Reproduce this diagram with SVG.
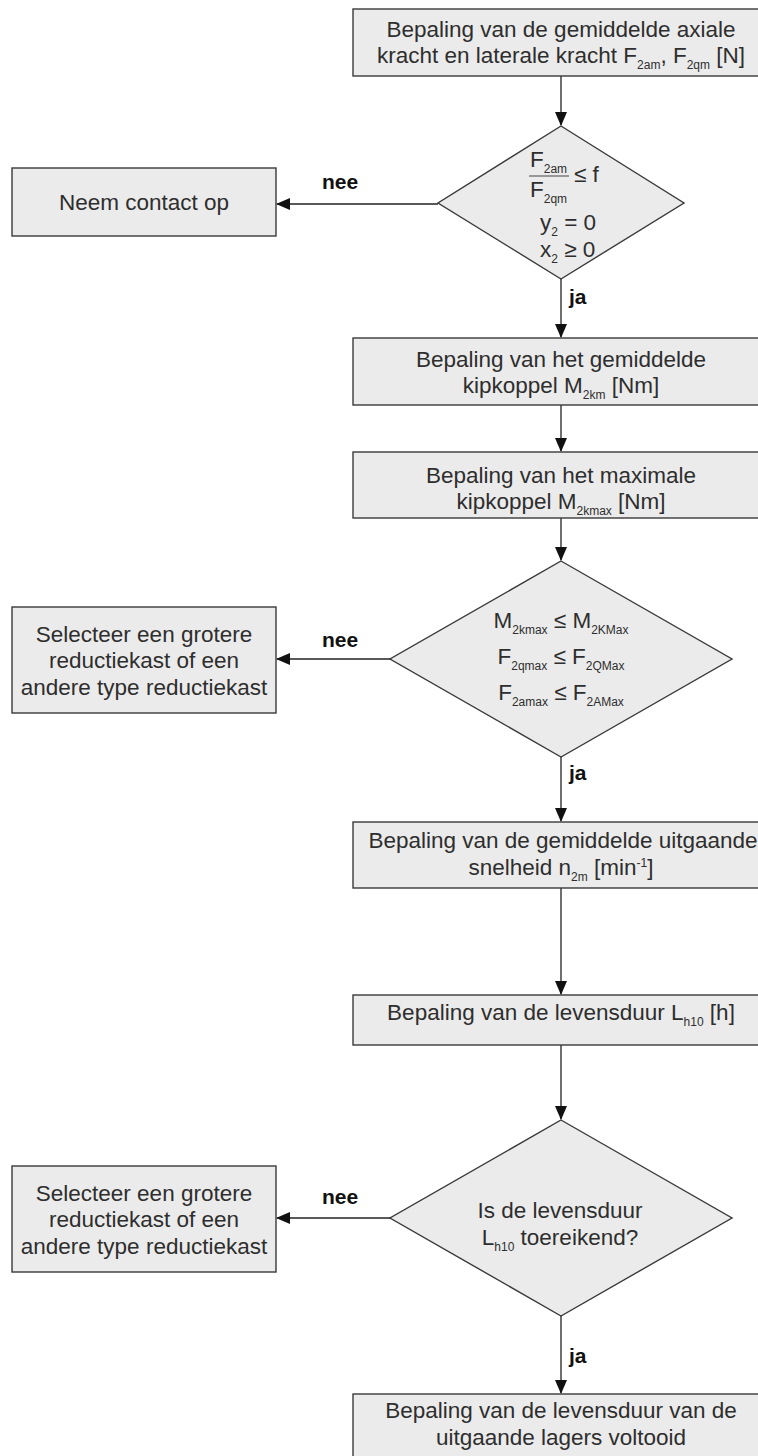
<svg xmlns="http://www.w3.org/2000/svg" width="758" height="1456" viewBox="0 0 758 1456">
<style>
.box{fill:#ebebeb;stroke:#3a3a3a;stroke-width:1.4}
.t{font-family:"Liberation Sans",Arial,sans-serif;font-size:22.5px;fill:#2e2e2e;text-anchor:middle}
.ts{font-family:"Liberation Sans",Arial,sans-serif;font-size:22.5px;fill:#2e2e2e}
.lbl{font-family:"Liberation Sans",Arial,sans-serif;font-size:21px;font-weight:bold;fill:#111}
.sub{font-size:12px}
.c{stroke:#222;stroke-width:1.3;fill:none}
</style>
<defs>
<marker id="ah" markerWidth="14" markerHeight="12" refX="13" refY="6" orient="auto" markerUnits="userSpaceOnUse">
<path d="M0,0 L14,6 L0,12 Z" fill="#111"/>
</marker>
</defs>
<rect width="758" height="1456" fill="#ffffff"/>

<g id="connectors">
<line class="c" x1="561" y1="76" x2="561" y2="125" marker-end="url(#ah)"/>
<line class="c" x1="438" y1="204" x2="277" y2="204" marker-end="url(#ah)"/>
<line class="c" x1="561" y1="279" x2="561" y2="337" marker-end="url(#ah)"/>
<line class="c" x1="561" y1="405" x2="561" y2="451" marker-end="url(#ah)"/>
<line class="c" x1="561" y1="518" x2="561" y2="560" marker-end="url(#ah)"/>
<line class="c" x1="390" y1="659" x2="277" y2="659" marker-end="url(#ah)"/>
<line class="c" x1="561" y1="757" x2="561" y2="821" marker-end="url(#ah)"/>
<line class="c" x1="561" y1="888" x2="561" y2="994" marker-end="url(#ah)"/>
<line class="c" x1="561" y1="1045" x2="561" y2="1119" marker-end="url(#ah)"/>
<line class="c" x1="390" y1="1218" x2="277" y2="1218" marker-end="url(#ah)"/>
<line class="c" x1="561" y1="1316" x2="561" y2="1393" marker-end="url(#ah)"/>
<text class="lbl" x="322" y="189">nee</text>
<text class="lbl" x="569" y="304">ja</text>
<text class="lbl" x="322" y="647">nee</text>
<text class="lbl" x="569" y="780">ja</text>
<text class="lbl" x="322" y="1204">nee</text>
<text class="lbl" x="569" y="1363">ja</text>
</g>

<g id="n1">
<rect class="box" x="353" y="9" width="416" height="67"/>
<text class="t" x="561" y="37">Bepaling van de gemiddelde axiale</text>
<text class="t" x="561" y="63">kracht en laterale kracht F<tspan class="sub" dy="6">2am</tspan><tspan dy="-6">, F</tspan><tspan class="sub" dy="6">2qm</tspan><tspan dy="-6"> [N]</tspan></text>
</g>

<g id="d1">
<polygon class="box" points="561,126 684,203 561,279 438,203"/>
<text class="ts" x="530" y="167">F<tspan class="sub" dy="6">2am</tspan></text>
<line x1="529" y1="176" x2="569" y2="176" stroke="#444" stroke-width="1.2"/>
<text class="ts" x="574" y="182">≤ f</text>
<text class="ts" x="530" y="197">F<tspan class="sub" dy="6">2qm</tspan></text>
<text class="ts" x="540" y="230">y<tspan class="sub" dy="6">2</tspan><tspan dy="-6"> = 0</tspan></text>
<text class="ts" x="540" y="257">x<tspan class="sub" dy="6">2</tspan><tspan dy="-6"> ≥ 0</tspan></text>
</g>

<g id="n2">
<rect class="box" x="12" y="168" width="264" height="68"/>
<text class="t" x="144" y="210">Neem contact op</text>
</g>

<g id="n3">
<rect class="box" x="353" y="338" width="416" height="67"/>
<text class="t" x="561" y="367">Bepaling van het gemiddelde</text>
<text class="t" x="561" y="393">kipkoppel M<tspan class="sub" dy="6">2km</tspan><tspan dy="-6"> [Nm]</tspan></text>
</g>

<g id="n4">
<rect class="box" x="353" y="452" width="416" height="66"/>
<text class="t" x="561" y="483">Bepaling van het maximale</text>
<text class="t" x="561" y="509">kipkoppel M<tspan class="sub" dy="6">2kmax</tspan><tspan dy="-6"> [Nm]</tspan></text>
</g>

<g id="d2">
<polygon class="box" points="561,561 732,659 561,757 390,659"/>
<text class="t" x="561" y="628">M<tspan class="sub" dy="6">2kmax</tspan><tspan dy="-6"> ≤ M</tspan><tspan class="sub" dy="6">2KMax</tspan></text>
<text class="t" x="561" y="664">F<tspan class="sub" dy="6">2qmax</tspan><tspan dy="-6"> ≤ F</tspan><tspan class="sub" dy="6">2QMax</tspan></text>
<text class="t" x="561" y="700">F<tspan class="sub" dy="6">2amax</tspan><tspan dy="-6"> ≤ F</tspan><tspan class="sub" dy="6">2AMax</tspan></text>
</g>

<g id="n5">
<rect class="box" x="12" y="607" width="264" height="106"/>
<text class="t" x="144" y="642">Selecteer een grotere</text>
<text class="t" x="144" y="668">reductiekast of een</text>
<text class="t" x="144" y="695">andere type reductiekast</text>
</g>

<g id="n6">
<rect class="box" x="353" y="822" width="416" height="66"/>
<text class="t" x="563" y="848">Bepaling van de gemiddelde uitgaande</text>
<text class="t" x="561" y="875">snelheid n<tspan class="sub" dy="6">2m</tspan><tspan dy="-6"> [min</tspan><tspan class="sub" dy="-8">-1</tspan><tspan dy="8">]</tspan></text>
</g>

<g id="n7">
<rect class="box" x="353" y="995" width="416" height="50"/>
<text class="t" x="561" y="1020">Bepaling van de levensduur L<tspan class="sub" dy="6">h10</tspan><tspan dy="-6"> [h]</tspan></text>
</g>

<g id="d3">
<polygon class="box" points="561,1120 732,1218 561,1316 390,1218"/>
<text class="t" x="560" y="1218">Is de levensduur</text>
<text class="t" x="560" y="1245">L<tspan class="sub" dy="6">h10</tspan><tspan dy="-6"> toereikend?</tspan></text>
</g>

<g id="n8">
<rect class="box" x="12" y="1166" width="264" height="106"/>
<text class="t" x="144" y="1201">Selecteer een grotere</text>
<text class="t" x="144" y="1227">reductiekast of een</text>
<text class="t" x="144" y="1254">andere type reductiekast</text>
</g>

<g id="n9">
<rect class="box" x="353" y="1394" width="416" height="70"/>
<text class="t" x="561" y="1418">Bepaling van de levensduur van de</text>
<text class="t" x="561" y="1445">uitgaande lagers voltooid</text>
</g>
</svg>
